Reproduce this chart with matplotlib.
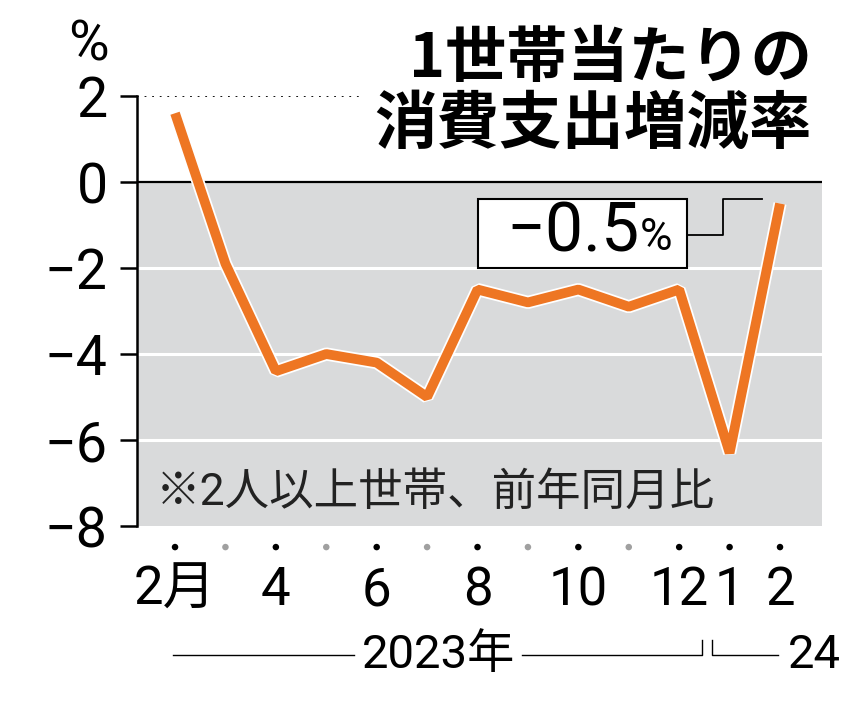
import matplotlib
matplotlib.use("Agg")
import matplotlib.pyplot as plt
import matplotlib.patheffects as pe
from matplotlib.patches import Rectangle

plt.rcParams['font.family'] = ['Roboto', 'Noto Sans CJK JP', 'DejaVu Sans']

# 1世帯当たりの消費支出 前年同月比 (%), 2023年2月〜2024年2月
months = ['2月', '3', '4', '5', '6', '7', '8', '9', '10', '11', '12', '1', '2']
values = [1.6, -1.9, -4.4, -4.0, -4.2, -5.0, -2.5, -2.8, -2.5, -2.9, -2.5, -6.3, -0.5]
shown_labels = {0: '2月', 2: '4', 4: '6', 6: '8', 8: '10', 10: '12', 11: '1', 12: '2'}
yticks = [2, 0, -2, -4, -6, -8]

orange = '#ee7623'
gray_bg = '#d9dadb'

fig = plt.figure(figsize=(8.65, 7.02), dpi=100)
ax = fig.add_axes([0.1584, 0.2507, 0.7919, 0.6125])

x = list(range(len(values)))
ax.set_xlim(-0.754, 12.833)
ax.set_ylim(-8, 2)

# shaded area below zero + white grid
ax.axhspan(-8, 0, color=gray_bg, zorder=0, lw=0)
for g in [-2, -4, -6]:
    ax.axhline(g, color='white', lw=2.2, zorder=1)
ax.axhline(0, color='black', lw=1.6, zorder=2)
ax.plot([-0.754, 3.71], [2, 2], color='black', lw=1.3, ls=(0, (1, 3.2)), zorder=2)

# main line with white outline
ax.plot(x, values, color=orange, lw=7, solid_capstyle='butt', solid_joinstyle='bevel',
        zorder=5, path_effects=[pe.Stroke(linewidth=9.5, foreground='white'), pe.Normal()])

# spines / ticks
for s in ['top', 'right', 'bottom']:
    ax.spines[s].set_visible(False)
ax.spines['left'].set_linewidth(1.8)
ax.set_yticks(yticks)
ax.set_yticklabels(['2', '0', '−2', '−4', '−6', '−8'])
ax.tick_params(axis='y', length=12, width=1.8, pad=9, labelsize=40)
ax.set_xticks([])

# month dots and labels under the axis
dot_colors = ['black' if (i % 2 == 0 or i >= 10) else '#a0a0a0' for i in x]
ax.scatter(x, [-8.49] * len(x), s=22, c=dot_colors, clip_on=False, zorder=5, lw=0)
for i, lab in shown_labels.items():
    ax.text(i, -9.5, lab, ha='center', va='center', fontsize=38, clip_on=False)

# year brackets
yl = -11.0
ax.plot([-0.04, 3.55], [yl, yl], color='black', lw=1.0, clip_on=False)
ax.plot([6.88, 10.45, 10.45], [yl, yl, -10.65], color='black', lw=1.0, clip_on=False)
ax.plot([10.65, 10.65, 11.96], [-10.65, yl, yl], color='black', lw=1.0, clip_on=False)
ax.text(5.22, yl, '2023年', ha='center', va='center', fontsize=34, clip_on=False)
ax.text(12.16, yl, '24', ha='left', va='center', fontsize=34, clip_on=False)

# note
ax.text(-0.39, -7.23, '※2人以上世帯、前年同月比', ha='left', va='center', fontsize=32,
        color='#222222', zorder=6)

# callout box
ax.add_patch(Rectangle((6.01, -2.0), 4.14, 1.6, facecolor='white', edgecolor='black',
                       lw=1.5, zorder=6))
ax.plot([10.15, 10.87, 10.87, 11.64], [-1.23, -1.23, -0.40, -0.40], color='black',
        lw=1.3, zorder=6)
ax.text(9.22, -1.17, '−0.5', ha='right', va='center', fontsize=49, zorder=7)
ax.text(9.22, -1.30, '%', ha='left', va='center', fontsize=32, zorder=7)

# title and unit
fig.text(0.9387, 0.916, '1世帯当たりの', ha='right', va='center', fontsize=44,
         fontweight='bold', family=['Noto Sans CJK JP'])
fig.text(0.9387, 0.8234, '消費支出増減率', ha='right', va='center', fontsize=45,
         fontweight='bold', family=['Noto Sans CJK JP'])
fig.text(0.1017, 0.936, '%', ha='center', va='center', fontsize=40)

fig.savefig('out.png', dpi=100)
